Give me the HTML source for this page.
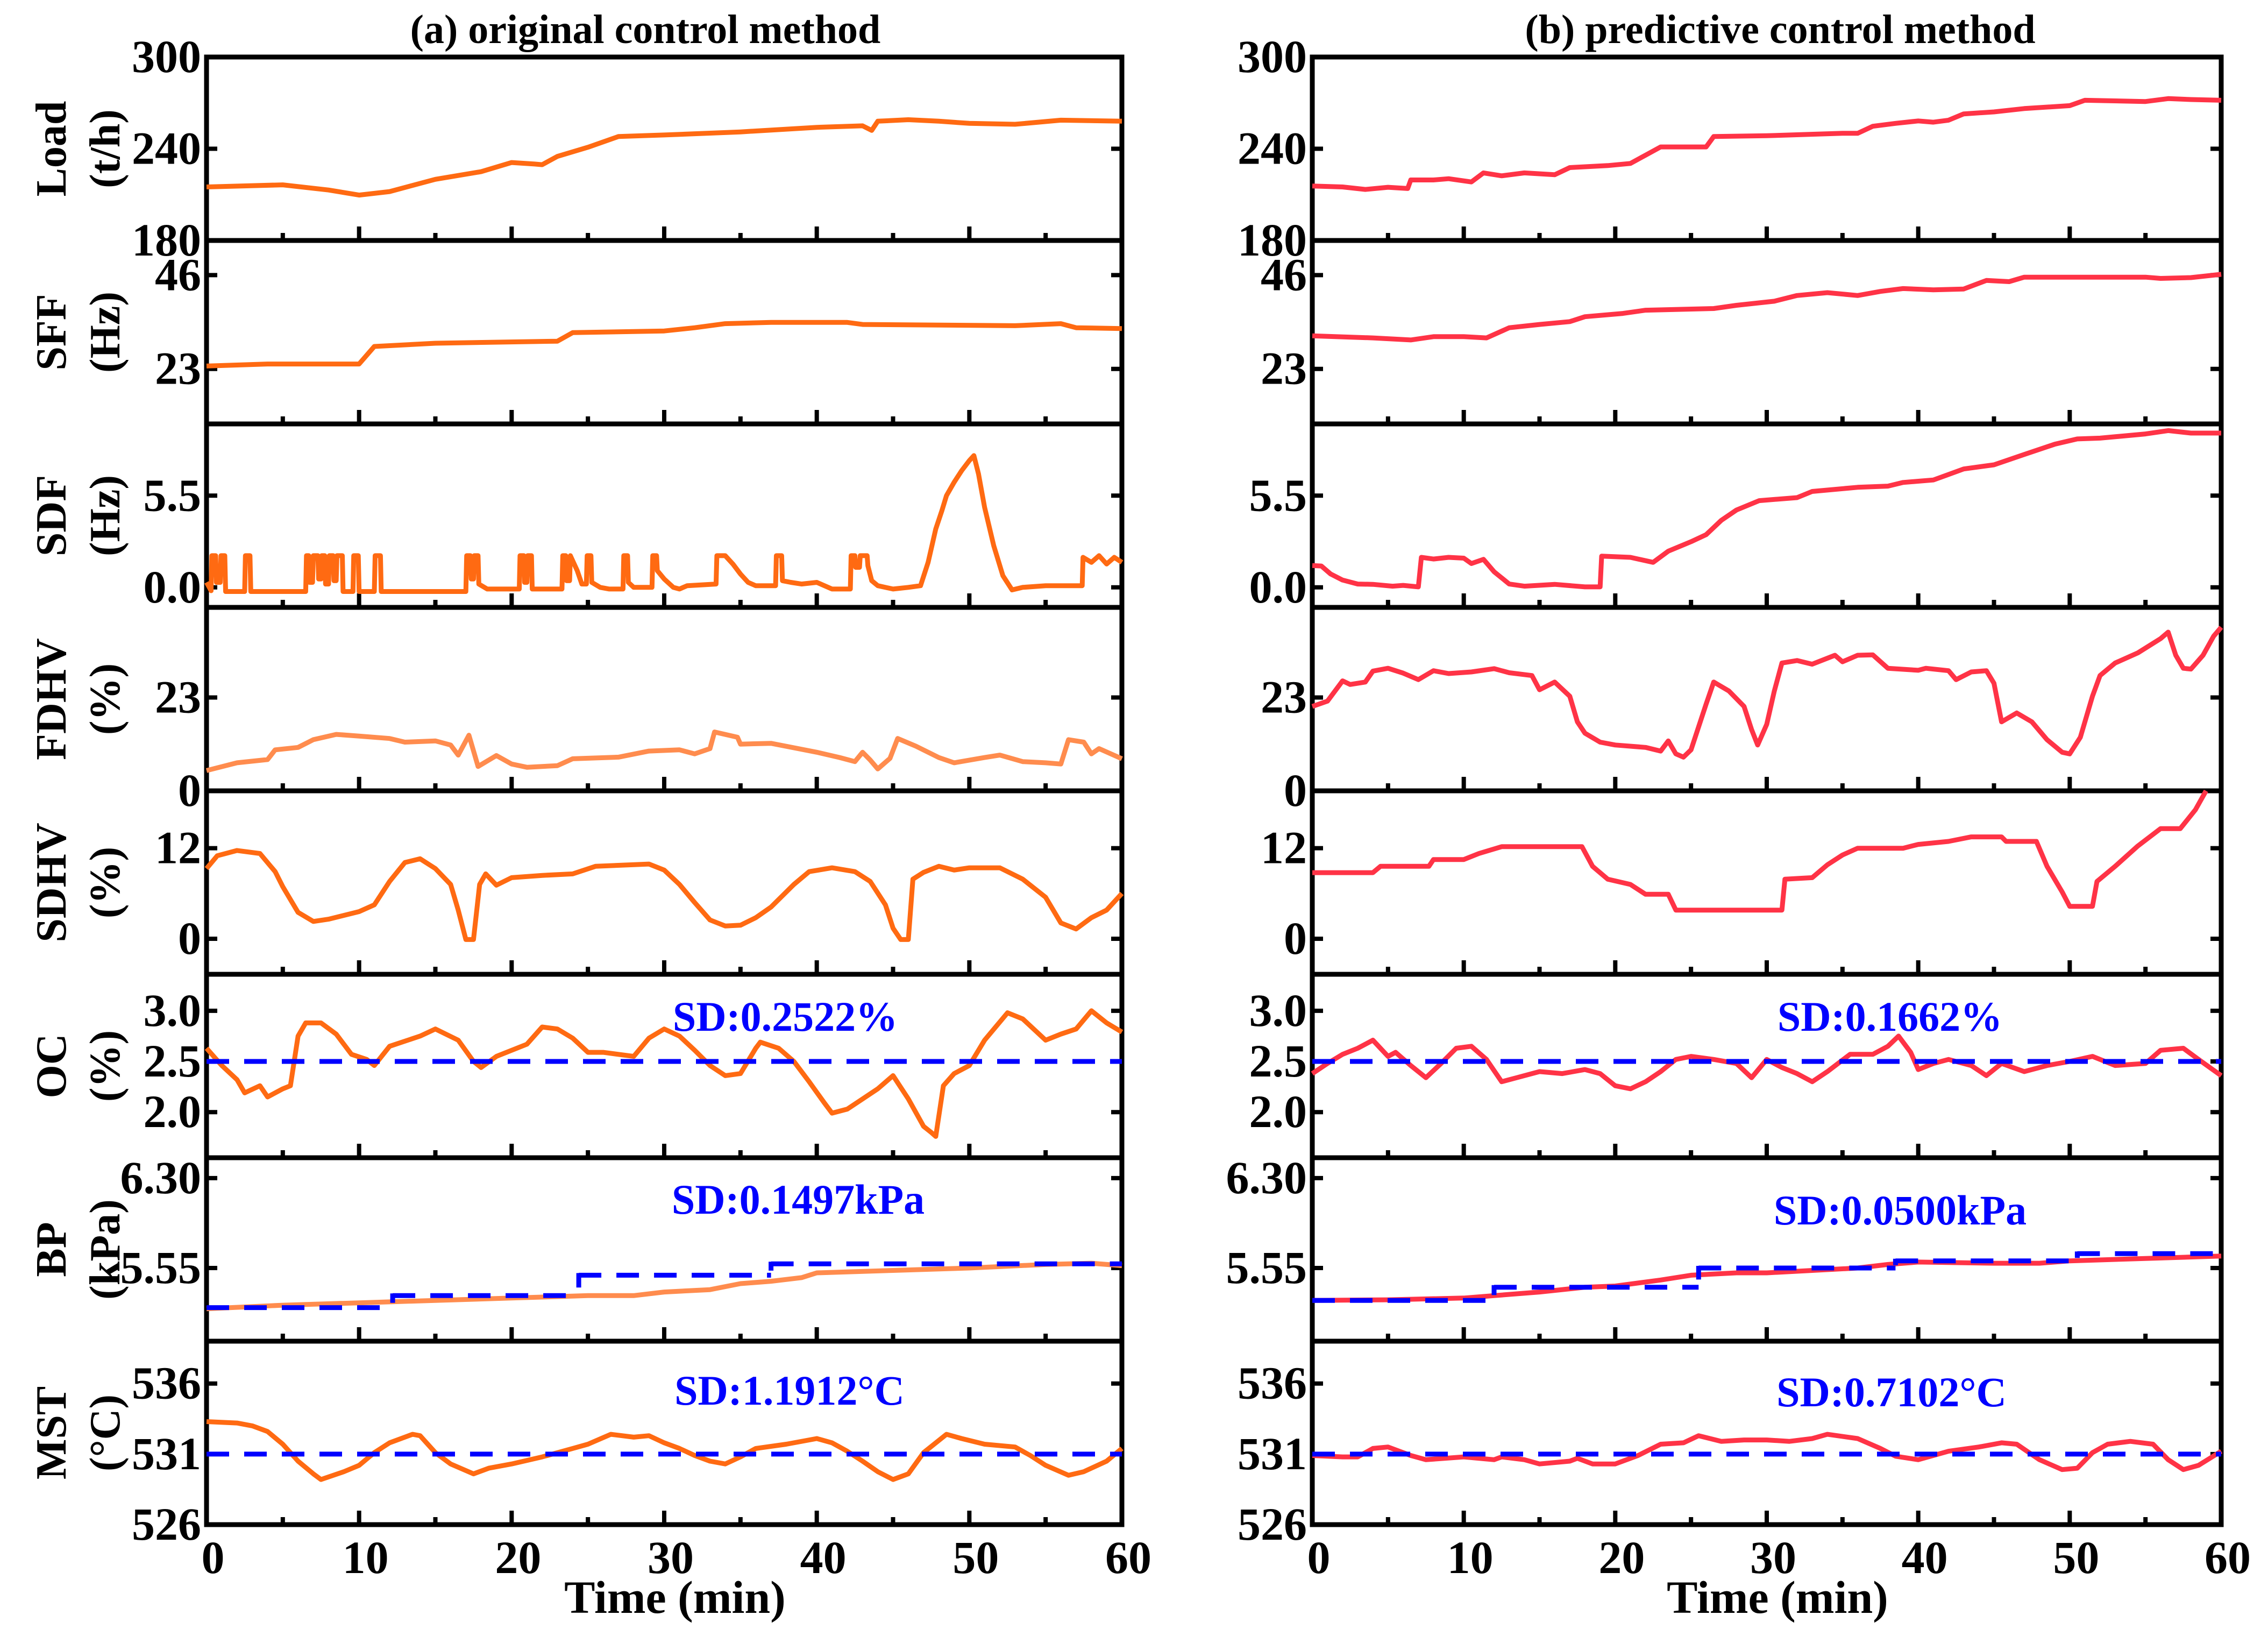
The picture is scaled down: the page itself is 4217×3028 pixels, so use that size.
<!DOCTYPE html>
<html><head><meta charset="utf-8">
<style>
html,body{margin:0;padding:0;background:#fff;}
svg{display:block;}
text{font-family:"Liberation Serif",serif;font-weight:bold;}
</style></head>
<body>
<svg id="fig" width="4217" height="3028" viewBox="0 0 4217 3028" xmlns="http://www.w3.org/2000/svg">
<rect x="0" y="0" width="4217" height="3028" fill="#fff"/>
<text x="1200" y="80" font-size="76" text-anchor="middle">(a) original control method</text>
<text x="3310" y="80" font-size="76" text-anchor="middle">(b) predictive control method</text>
<g id="plots"></g>
</svg>
<script>
// ---------- data ----------
const xTickLabels = ["0","10","20","30","40","50","60"];
const rowNames = ["Load","SFF","SDF","FDHV","SDHV","OC","BP","MST"];
const rowUnits = ["(t/h)","(Hz)","(Hz)","(%)","(%)","(%)","(kPa)","(°C)"];
const yMin = [180, 9.5, -1.2, 0, -4.7, 1.55, 4.94, 526];
const yMax = [300, 54.5, 9.8, 45.2, 19.6, 3.36, 6.47, 539];
const yTickValues = [[180,240,300],[23,46],[0,5.5],[0,23],[0,12],[2.0,2.5,3.0],[5.55,6.30],[526,531,536]];
const yTickLabels = [["180","240","300"],["23","46"],["0.0","5.5"],["0","23"],["0","12"],["2.0","2.5","3.0"],["5.55","6.30"],["526","531","536"]];

// left (original) series
const loadA_t = [0,5,8,10,12,15,18,20,21.5,22,23,25,27,30,35,40,43,43.6,44,46,48,50,53,56,60];
const loadA_v = [215,216.4,213,209.7,212,220,225,231,230,229.6,235,241,248,249,251,254,255,252,258,259,258,256.6,256,258.7,258];
const sffA_t = [0,4,10,11,15,23,24,30,32,34,37,42,43,53,56,57,60];
const sffA_v = [23.7,24.2,24.2,28.5,29.3,29.8,31.9,32.3,33.1,34.1,34.4,34.4,33.9,33.6,34.1,33.1,32.9];
const sdfA_t = [0,0.3,0.35,0.6,0.65,0.9,0.95,1.2,1.25,2.5,2.55,2.85,2.9,6.5,6.55,6.7,6.75,6.95,7.0,7.3,7.35,7.5,7.55,7.75,7.8,8.0,8.05,8.3,8.35,8.5,8.55,8.9,8.95,9.6,9.65,9.95,10.0,11.0,11.05,11.4,11.45,17.0,17.05,17.3,17.35,17.5,17.55,17.8,17.85,18.4,20.5,20.55,20.8,20.85,21.0,21.05,21.3,21.35,23.3,23.35,23.55,23.6,23.8,23.85,24.3,24.6,24.9,24.95,25.2,25.25,25.8,26.4,27.3,27.35,27.6,27.65,28.0,29.2,29.25,29.5,29.55,30.0,30.6,31.0,31.5,33.4,33.45,34.0,34.5,35.0,35.5,36.0,37.3,37.35,37.7,37.75,38.3,39.0,40.0,41.0,42.2,42.25,42.5,42.55,42.8,42.85,43.3,43.35,43.6,44.0,45.0,46.0,46.8,47.3,47.8,48.2,48.5,49.0,49.5,50.0,50.3,50.6,51.0,51.6,52.2,52.8,53.5,55.0,57.4,57.45,58.0,58.5,59.0,59.5,60];
const sdfA_v = [0.3,-0.2,1.9,1.9,0.3,0.3,1.9,1.9,-0.25,-0.25,1.9,1.9,-0.25,-0.25,1.9,1.9,0.3,0.3,1.9,1.9,0.5,0.5,1.9,1.9,0.2,0.2,1.9,1.9,0.4,0.4,1.9,1.9,-0.25,-0.25,1.9,1.9,-0.25,-0.25,1.9,1.9,-0.25,-0.25,1.9,1.9,0.5,0.5,1.9,1.9,0.2,-0.1,-0.1,1.9,1.9,0.3,0.3,1.9,1.9,-0.1,-0.1,1.9,1.9,0.4,0.4,1.9,1.0,0.2,0.2,1.9,1.9,0.3,0.0,-0.1,-0.1,1.9,1.9,0.3,0.0,0.0,1.9,1.9,1.0,0.5,0.0,-0.1,0.1,0.2,1.9,1.9,1.4,0.8,0.3,0.1,0.1,1.9,1.9,0.4,0.3,0.2,0.3,-0.1,-0.1,1.9,1.9,1.2,1.2,1.9,1.9,1.3,0.4,0.1,-0.1,0.0,0.1,1.5,3.5,4.6,5.5,6.3,7.0,7.6,7.9,6.8,4.8,2.5,0.7,-0.15,0.0,0.1,0.1,1.8,1.5,1.9,1.4,1.8,1.5];
const fdhvA_t = [0,2,4,4.5,6,7,8.5,10,12,13,15,16,16.5,17.2,17.8,19,20,21,23,24,27,29,31,32,33,33.3,34.8,35,37,40,41.5,42.5,43,43.5,44,44.8,45.3,46.5,48,49,51,52,53.5,55,56,56.5,57.5,58,58.5,60];
const fdhvA_v = [5.0,6.9,7.7,10.1,10.7,12.6,13.9,13.5,12.9,12.0,12.3,11.3,8.8,13.7,6.0,8.7,6.6,5.8,6.2,7.9,8.3,9.8,10.1,9.1,10.4,14.5,13.2,11.5,11.7,9.5,8.2,7.2,9.5,7.6,5.4,8.0,12.9,11.0,8.2,6.9,8.2,8.8,7.2,6.9,6.6,12.6,12.0,9.1,10.4,7.9];
const sdhvA_t = [0,0.7,2,3.5,4.5,5,6,7,8,10,11,12,13,14,15,16,16.5,17,17.5,17.9,18.3,19,20,22,24,25.5,29,30,31,32,33,34,35,36,37,38.5,39.5,41,42.5,43.5,44.5,45,45.5,46,46.3,47,48,49,50,52,53.5,55,56,57,58,59,60];
const sdhvA_v = [9.3,11,11.7,11.3,8.9,6.9,3.5,2.3,2.6,3.6,4.5,7.6,10.1,10.6,9.3,7.2,3.8,-0.1,-0.1,7.2,8.6,7.1,8.1,8.4,8.6,9.6,9.9,9.1,7.2,4.8,2.5,1.7,1.8,2.8,4.2,7.2,8.9,9.4,8.9,7.6,4.5,1.4,-0.1,-0.1,7.9,8.8,9.6,9.1,9.4,9.4,7.9,5.5,2.1,1.3,2.8,3.8,6.0];
const ocA_t = [0,1,2,2.5,3.5,4,5,5.5,6,6.5,7.5,8.5,9.5,10.5,11,12,14,15,16.5,17.5,18,19,21,22,23,24,25,26,28,29,30,31,32,33,34,35,36,36.3,37.5,38.5,39.5,40.5,41,42,43,44,45,46,47,47.5,47.8,48.3,49,50,51,52.5,53.5,55,56,57,58,59,60];
const ocA_v = [2.63,2.46,2.32,2.19,2.26,2.15,2.23,2.26,2.75,2.88,2.88,2.77,2.57,2.52,2.46,2.65,2.75,2.82,2.71,2.50,2.44,2.55,2.67,2.84,2.82,2.73,2.59,2.59,2.55,2.73,2.82,2.75,2.61,2.46,2.36,2.38,2.63,2.69,2.63,2.50,2.30,2.09,1.99,2.03,2.13,2.23,2.36,2.13,1.86,1.80,1.76,2.26,2.38,2.46,2.71,2.98,2.92,2.71,2.77,2.82,3.00,2.88,2.79];
const bpA_t = [0,5,10,15,20,25,28,30,33,35,37,39,40,45,50,55,58,60];
const bpA_v = [5.21,5.24,5.26,5.28,5.30,5.32,5.32,5.35,5.37,5.42,5.44,5.47,5.51,5.53,5.55,5.58,5.59,5.57];
const bpSetA_t = [0,12.2,24.4,37,60];
const bpSetA_v = [5.22,5.32,5.49,5.585];
const mstA_t = [0,2,3,4,5,6,7,7.5,9,10,11,12,13.5,14,15,16,17.5,18.5,20,22,24,25,26.5,28,29,30,31,32,33,34,35,36,38,40,41,42,43,44,45,46,47,48.5,49.5,51,53,54,55,56.5,57.5,59,60];
const mstA_v = [533.3,533.2,533.0,532.6,531.7,530.5,529.6,529.2,529.75,530.2,531.1,531.8,532.4,532.3,531.1,530.3,529.6,530.0,530.3,530.8,531.4,531.7,532.4,532.2,532.3,531.8,531.4,530.9,530.5,530.3,530.8,531.4,531.7,532.1,531.8,531.2,530.5,529.75,529.2,529.6,531.1,532.4,532.1,531.7,531.5,530.9,530.2,529.5,529.75,530.5,531.4];

// right (predictive) series
const loadB_t = [0,2,3.5,5,6.3,6.5,8,9,10.5,11.3,12.5,14,16,17,19.5,21,22,23,26,26.5,30,35,36,37,38.5,40,41,42,43,45,47,50,51,55,56.5,58,60];
const loadB_v = [215.6,215,213.4,214.8,214,219.6,219.6,220.4,218.3,224.2,222.3,224.2,223,227.7,229,230.4,235.8,241.2,241.2,248,248.5,250.1,250.1,254.7,256.6,258.2,257.4,258.7,262.8,264.1,266.3,268.2,271.7,270.9,272.8,272.2,271.7];
const sffB_t = [0,4,6.5,8,10,11.5,13,15,17,18,20.5,22,26.5,28,30.5,32,34,36,37.5,39,41,43,44.5,46,47,55,56,58,60];
const sffB_v = [31.1,30.6,30.1,30.9,30.9,30.6,33.1,33.9,34.6,35.8,36.6,37.4,37.8,38.6,39.6,41,41.7,41,42,42.7,42.4,42.6,44.7,44.4,45.5,45.5,45.2,45.4,46.2];
const sdfB_t = [0,0.6,1.2,2,3,4,5.3,6,7,7.2,8,9,10,10.5,11.3,12,13,14,16,18,19,19.1,21,22.5,23.5,25,26,27,28,29.5,32,33,36,38,39,41,43,45,47,49,50.5,52,55,56.5,58,60];
const sdfB_v = [1.31,1.28,0.81,0.44,0.2,0.18,0.07,0.12,0.03,1.8,1.7,1.8,1.75,1.43,1.68,0.94,0.2,0.07,0.18,0.03,0.03,1.87,1.8,1.5,2.17,2.74,3.16,4.02,4.64,5.2,5.38,5.75,6.0,6.07,6.29,6.44,7.1,7.35,7.97,8.58,8.9,8.95,9.2,9.4,9.25,9.25];
const fdhvB_t = [0,1,2,2.5,3.5,4,5,6,7,8,9,10.5,12,13,14.5,15,16,17,17.5,18,19,20,22,23,23.5,24,24.5,25,26,26.5,27.5,28.5,29,29.4,30,30.5,31,32,33,34.5,35,36,37,38,40,40.5,42,42.5,43.5,44.5,45,45.5,46.5,47.5,48.5,49.5,50,50.7,51.5,52,53,54.5,56,56.5,57,57.5,58,58.8,59.5,60];
const fdhvB_v = [20.8,22.1,27.1,26.2,26.8,29.5,30.2,29,27.4,29.6,28.9,29.3,30.1,29.1,28.4,24.9,26.8,23.3,17,14.2,12,11.3,10.7,9.8,12.3,9.1,8.3,10.1,21.4,26.8,24.6,20.8,15.1,11.3,16.4,24.6,31.5,32.1,31.2,33.4,31.8,33.4,33.5,30.2,29.7,30.2,29.6,27.4,29.3,29.6,26.5,17,19.2,17,12.6,9.5,9.1,13.2,23.3,28.4,31.5,34,37.5,39.1,33.4,30.2,30.0,33.4,38.1,40.3];
const sdhvB_t = [0,4,4.5,7.7,8,10,11,12.5,17.8,18.5,19.5,21,22,23.5,24,31,31.2,33,34,35,36,39,40,42,43.5,45.5,45.8,47.8,48.5,49.5,50,51.5,51.8,53,54.5,56,57.3,58.3,59];
const sdhvB_v = [8.76,8.76,9.6,9.6,10.5,10.5,11.3,12.2,12.2,9.6,7.9,7.2,5.9,5.9,3.8,3.8,7.9,8.1,9.8,11.1,12.0,12.0,12.5,12.9,13.5,13.5,12.9,12.9,9.6,6.2,4.3,4.3,7.6,9.6,12.3,14.6,14.6,17.1,20.2];
const ocB_t = [0,1,2,3,4,5,5.5,6.5,7.5,8.5,9.5,10.5,11.5,12.5,13.5,15,16.5,18,19,20,21,22,23,24,25,26.5,28,29,30,31,32,33,34,35.5,37,38,38.7,39.5,40,41,42,43.5,44.5,45.5,47,48.5,50,51.5,53,55,56,57.5,58.5,60];
const ocB_v = [2.38,2.48,2.57,2.63,2.71,2.55,2.59,2.46,2.34,2.48,2.63,2.65,2.52,2.30,2.34,2.40,2.38,2.42,2.38,2.26,2.23,2.30,2.40,2.52,2.55,2.52,2.48,2.34,2.52,2.44,2.38,2.30,2.40,2.57,2.57,2.65,2.75,2.59,2.42,2.48,2.52,2.46,2.36,2.48,2.40,2.46,2.50,2.55,2.46,2.48,2.61,2.63,2.52,2.36];
const bpB_t = [0,5,10,12,15,18,20,23,25,28,30,33,36,38,40,45,48,50,55,60];
const bpB_v = [5.28,5.285,5.30,5.32,5.35,5.39,5.40,5.45,5.49,5.51,5.51,5.53,5.55,5.58,5.60,5.59,5.59,5.61,5.63,5.65];
const bpSetB_t = [0,12,25.5,38.5,50.5,60];
const bpSetB_v = [5.28,5.39,5.55,5.61,5.67];
const mstB_t = [0,2,3,4,5,6.5,7.5,10,12,12.5,14,15,17,17.5,18.5,20,21.5,23,24.5,25.5,27,28.5,30,31.5,33,34,36,37.5,38.5,40,42,44,45.5,46.5,48,49.5,50.5,51.5,52.5,54,55.5,56.5,57.5,58.5,60];
const mstB_v = [530.9,530.8,530.8,531.4,531.5,530.9,530.6,530.8,530.6,530.8,530.6,530.3,530.5,530.7,530.3,530.3,530.9,531.7,531.8,532.3,531.9,532.0,532.0,531.9,532.1,532.4,532.1,531.4,530.85,530.6,531.2,531.5,531.8,531.7,530.6,529.9,530.0,531.1,531.7,531.9,531.7,530.6,529.9,530.2,531.2];

const ocRef = 2.5, mstRef = 531;
const sdTextA = ["SD:0.2522%","SD:0.1497kPa","SD:1.1912°C"];
const sdTextB = ["SD:0.1662%","SD:0.0500kPa","SD:0.7102°C"];

// ---------- layout ----------
const NS = "http://www.w3.org/2000/svg";
const plots = document.getElementById('plots');
const TOP = 106, PH = 341;
const cols = [{x0:384,x1:2086},{x0:2440,x1:4130}];
const ORANGE = "#FF6A12", LORANGE = "#FF8C4E", RED = "#FF3346", BLUE = "#0000FF";

function mk(tag, attrs, parent){
  const e = document.createElementNS(NS, tag);
  for (const k in attrs) e.setAttribute(k, attrs[k]);
  (parent||plots).appendChild(e);
  return e;
}
function xScale(c, t){ return cols[c].x0 + (t/60)*(cols[c].x1-cols[c].x0); }
function yScale(r, v){ const y0 = TOP + r*PH; return y0 + PH - (v - yMin[r])/(yMax[r]-yMin[r])*PH; }

function drawSeries(c, r, ts, vs, color, name){
  let d = "";
  for (let i=0;i<ts.length;i++){
    const y = Math.max(TOP + r*PH, yScale(r, vs[i]));
    d += (i?"L":"M") + xScale(c, ts[i]).toFixed(1) + "," + y.toFixed(1);
  }
  const p = mk('path', {d:d, fill:"none", stroke:color, "stroke-width":9, "stroke-linejoin":"round"});
  
  
}
function drawRefLine(c, r, v, name){
  const y = yScale(r, v);
  const l = mk('line', {x1:xScale(c,0), x2:xScale(c,60), y1:y, y2:y, stroke:BLUE, "stroke-width":9, "stroke-dasharray":"42,28"});
  
  
}
function drawStepRef(c, r, ts, vs, name){
  let d = "";
  for (let i=0;i<vs.length;i++){
    const y = yScale(r, vs[i]);
    d += "M" + xScale(c, ts[i]).toFixed(1) + "," + y.toFixed(1) + "L" + xScale(c, ts[i+1]).toFixed(1) + "," + y.toFixed(1);
    if (i>0){
      const yp = yScale(r, vs[i-1]);
      d += "M" + xScale(c, ts[i]).toFixed(1) + "," + (Math.min(y,yp)-4).toFixed(1) + "L" + xScale(c, ts[i]).toFixed(1) + "," + (y+ (yp-y)*0.6).toFixed(1);
    }
  }
  const p = mk('path', {d:d, fill:"none", stroke:BLUE, "stroke-width":9, "stroke-dasharray":"42,28"});
  
  
}

for (let c=0;c<2;c++){
  const {x0,x1} = cols[c];
  for (let r=0;r<8;r++){
    const y0 = TOP + r*PH, y1 = y0 + PH;
    for (let k=0;k<yTickValues[r].length;k++){
      const y = yScale(r, yTickValues[r][k]);
      mk('line',{x1:x0, x2:x0+20, y1:y, y2:y, stroke:"#000","stroke-width":8});
      mk('line',{x1:x1-20, x2:x1, y1:y, y2:y, stroke:"#000","stroke-width":8});
      const t = mk('text',{x:x0-10, y:y+28, "font-size":86, "text-anchor":"end"});
      t.textContent = yTickLabels[r][k];
      
      
    }
    for (let m=0;m<=60;m+=5){
      const x = xScale(c, m);
      const len = (m%10===0)?26:14;
      mk('line',{x1:x, x2:x, y1:y1, y2:y1-len, stroke:"#000","stroke-width":8});
    }
    const fr = mk('rect',{x:x0, y:y0, width:x1-x0, height:PH, fill:"none", stroke:"#000", "stroke-width":9});
    
    
    if (c===0){
      const cy = y0 + PH/2;
      const t1 = mk('text',{x:0,y:0,"font-size":80,"text-anchor":"middle",transform:`translate(122,${cy}) rotate(-90)`});
      t1.textContent = rowNames[r];
      
      
      const t2 = mk('text',{x:0,y:0,"font-size":80,"text-anchor":"middle",transform:`translate(222,${cy}) rotate(-90)`});
      t2.textContent = rowUnits[r];
      
      
    }
  }
  for (let k=0;k<xTickLabels.length;k++){
    const t = mk('text',{x:xScale(c, k*10)+12, y:2924, "font-size":86, "text-anchor":"middle"});
    t.textContent = xTickLabels[k];
    
    
  }
  const xt = mk('text',{x:(x0+x1)/2+20, y:2998, "font-size":86, "text-anchor":"middle"});
  xt.textContent = "Time (min)";
  
  
}

drawSeries(0,0,loadA_t,loadA_v,ORANGE,'load-original');
drawSeries(0,1,sffA_t,sffA_v,ORANGE,'sff-original');
drawSeries(0,2,sdfA_t,sdfA_v,ORANGE,'sdf-original');
drawSeries(0,3,fdhvA_t,fdhvA_v,LORANGE,'fdhv-original');
drawSeries(0,4,sdhvA_t,sdhvA_v,ORANGE,'sdhv-original');
drawSeries(0,5,ocA_t,ocA_v,ORANGE,'oc-original');
drawSeries(0,6,bpA_t,bpA_v,LORANGE,'bp-original');
drawSeries(0,7,mstA_t,mstA_v,ORANGE,'mst-original');
drawRefLine(0,5,ocRef,'oc-setpoint-original');
drawStepRef(0,6,bpSetA_t,bpSetA_v,'bp-setpoint-original');
drawRefLine(0,7,mstRef,'mst-setpoint-original');
drawSeries(1,0,loadB_t,loadB_v,RED,'load-predictive');
drawSeries(1,1,sffB_t,sffB_v,RED,'sff-predictive');
drawSeries(1,2,sdfB_t,sdfB_v,RED,'sdf-predictive');
drawSeries(1,3,fdhvB_t,fdhvB_v,RED,'fdhv-predictive');
drawSeries(1,4,sdhvB_t,sdhvB_v,RED,'sdhv-predictive');
drawSeries(1,5,ocB_t,ocB_v,RED,'oc-predictive');
drawSeries(1,6,bpB_t,bpB_v,RED,'bp-predictive');
drawSeries(1,7,mstB_t,mstB_v,RED,'mst-predictive');
drawRefLine(1,5,ocRef,'oc-setpoint-predictive');
drawStepRef(1,6,bpSetB_t,bpSetB_v,'bp-setpoint-predictive');
drawRefLine(1,7,mstRef,'mst-setpoint-predictive');

const sdPos = [[1460,1890],[1484,2230],[1468,2585]];
const sdPosB = [[3514,1890],[3533,2250],[3517,2588]];
for (let i=0;i<3;i++){
  const a = mk('text',{x:sdPos[i][0], y:sdPos[i][1]+26, "font-size":78, "text-anchor":"middle", fill:BLUE});
  a.textContent = sdTextA[i];
  
  
  const b = mk('text',{x:sdPosB[i][0], y:sdPosB[i][1]+26, "font-size":78, "text-anchor":"middle", fill:BLUE});
  b.textContent = sdTextB[i];
  
  
}
</script>
</body></html>
